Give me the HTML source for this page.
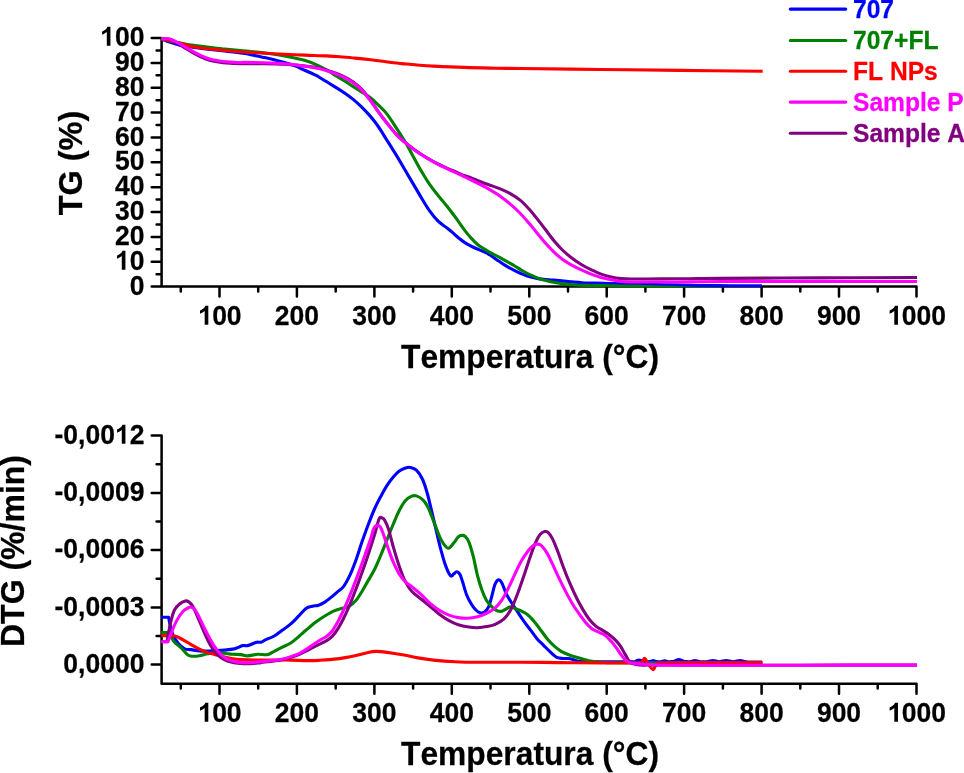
<!DOCTYPE html>
<html><head><meta charset="utf-8"><title>TG / DTG</title>
<style>
html,body{margin:0;padding:0;background:#fff;}
body{width:964px;height:773px;position:relative;overflow:hidden;font-family:"Liberation Sans",sans-serif;}
.one{display:inline-block;width:0.5562em;height:0.673em;vertical-align:baseline;fill:currentColor;overflow:visible}
.t{position:absolute;font-kerning:none;-webkit-text-stroke:0.25px currentColor;font-family:"Liberation Sans",sans-serif;font-weight:bold;white-space:nowrap;}
</style></head><body>
<svg width="964" height="773" viewBox="0 0 964 773" style="position:absolute;left:0;top:0">
<path d="M161.6 38.0V286.6M161.6 286.6H916.5M151.7 286.6H161.6M156.6 274.2H161.6M151.7 261.7H161.6M156.6 249.3H161.6M151.7 236.9H161.6M156.6 224.5H161.6M151.7 212.0H161.6M156.6 199.6H161.6M151.7 187.2H161.6M156.6 174.7H161.6M151.7 162.3H161.6M156.6 149.9H161.6M151.7 137.4H161.6M156.6 125.0H161.6M151.7 112.6H161.6M156.6 100.2H161.6M151.7 87.7H161.6M156.6 75.3H161.6M151.7 62.9H161.6M156.6 50.4H161.6M151.7 38.0H161.6M180.8 286.6V291.4M219.5 286.6V296.6M258.2 286.6V291.4M296.9 286.6V296.6M335.7 286.6V291.4M374.4 286.6V296.6M413.1 286.6V291.4M451.8 286.6V296.6M490.5 286.6V291.4M529.3 286.6V296.6M568.0 286.6V291.4M606.7 286.6V296.6M645.4 286.6V291.4M684.1 286.6V296.6M722.9 286.6V291.4M761.6 286.6V296.6M800.3 286.6V291.4M839.0 286.6V296.6M877.7 286.6V291.4M916.5 286.6V296.6M161.6 435.6V683.8M161.6 683.8H916.5M151.7 664.6H161.6M156.6 636.0H161.6M151.7 607.4H161.6M156.6 578.7H161.6M151.7 550.1H161.6M156.6 521.5H161.6M151.7 492.9H161.6M156.6 464.2H161.6M151.7 435.6H161.6M180.8 683.8V688.6M219.5 683.8V693.8M258.2 683.8V688.6M296.9 683.8V693.8M335.7 683.8V688.6M374.4 683.8V693.8M413.1 683.8V688.6M451.8 683.8V693.8M490.5 683.8V688.6M529.3 683.8V693.8M568.0 683.8V688.6M606.7 683.8V693.8M645.4 683.8V688.6M684.1 683.8V693.8M722.9 683.8V688.6M761.6 683.8V693.8M800.3 683.8V688.6M839.0 683.8V693.8M877.7 683.8V688.6M916.5 683.8V693.8" fill="none" stroke="#000" stroke-width="2.5" stroke-linecap="round"/>
<defs><clipPath id="ct"><rect x="160" y="30" width="780" height="257.6"/></clipPath></defs>
<g clip-path="url(#ct)">
<path d="M161.2 38.7C162.7 39.3 167.2 41.2 170.4 42.3C173.7 43.4 177.2 44.6 180.7 45.4C184.1 46.2 187.6 46.4 191.1 46.9C194.6 47.4 196.3 47.8 201.5 48.4C206.7 49.0 215.3 50.0 222.2 50.8C229.1 51.6 237.8 52.5 243.0 53.3C248.2 54.0 250.0 54.6 253.4 55.3C256.9 56.0 260.2 56.7 263.7 57.4C267.1 58.1 270.6 58.8 274.1 59.7C277.6 60.6 281.0 61.6 284.5 62.6C288.0 63.6 291.4 64.6 294.9 65.9C298.3 67.2 301.8 69.0 305.2 70.5C308.6 72.0 313.1 74.0 315.6 75.2C318.1 76.4 317.9 76.5 320.0 77.8C322.1 79.1 325.5 81.1 328.3 82.8C331.1 84.5 333.8 86.1 336.6 87.8C339.4 89.5 342.1 91.3 344.9 93.2C347.7 95.1 350.4 97.1 353.2 99.4C356.0 101.7 358.7 104.2 361.5 106.9C364.3 109.6 367.3 112.8 369.8 115.6C372.3 118.4 374.7 121.7 376.4 123.9C378.1 126.2 378.0 126.0 380.0 129.1C382.0 132.2 385.5 138.0 388.3 142.4C391.1 146.8 393.8 151.0 396.6 155.6C399.4 160.2 402.1 165.1 404.9 169.8C407.7 174.5 410.4 179.2 413.2 183.9C416.0 188.6 418.7 193.4 421.5 198.0C424.3 202.6 427.0 207.3 429.8 211.2C432.6 215.1 435.4 218.5 438.1 221.2C440.8 223.9 443.8 225.5 446.2 227.4C448.6 229.3 450.3 230.6 452.4 232.4C454.5 234.2 456.6 236.3 458.7 238.0C460.8 239.7 462.8 241.2 464.9 242.6C467.0 243.9 469.0 245.0 471.1 246.1C473.2 247.2 475.2 248.1 477.3 249.0C479.4 249.9 481.5 250.7 483.6 251.7C485.7 252.7 487.7 253.6 489.8 254.8C491.9 256.1 493.9 257.8 496.0 259.2C498.1 260.6 500.1 262.1 502.2 263.5C504.3 264.9 506.4 266.1 508.5 267.3C510.6 268.5 512.6 269.6 514.7 270.6C516.8 271.6 518.8 272.6 520.9 273.5C523.0 274.4 525.0 275.3 527.1 276.0C529.2 276.7 531.3 277.1 533.4 277.6C535.5 278.1 537.5 278.6 539.6 278.9C541.7 279.2 543.7 279.3 545.8 279.5C547.9 279.7 549.7 279.8 552.0 280.0C554.3 280.2 554.5 280.2 559.5 280.6C564.5 281.1 575.0 282.2 582.2 282.7C589.5 283.1 596.1 283.1 603.0 283.3C609.9 283.5 613.4 283.6 623.7 283.9C634.0 284.1 652.3 284.5 665.0 284.8C677.7 285.1 689.2 285.4 700.0 285.5C710.8 285.6 719.7 285.7 730.0 285.7C740.3 285.7 756.7 285.7 762.0 285.7" fill="none" stroke="#0000ff" stroke-width="3.1" stroke-linejoin="round" stroke-linecap="butt"/>
<path d="M161.2 38.7C162.7 39.1 167.2 40.3 170.4 41.0C173.7 41.7 177.2 42.3 180.7 43.0C184.1 43.7 187.6 44.5 191.1 45.0C194.6 45.5 196.3 45.7 201.5 46.3C206.7 46.9 215.3 48.0 222.2 48.8C229.1 49.5 236.1 50.1 243.0 50.8C249.9 51.5 256.8 51.9 263.7 52.8C270.6 53.6 277.6 54.6 284.5 55.9C291.4 57.2 299.7 58.9 305.2 60.5C310.7 62.1 313.8 63.5 317.7 65.3C321.6 67.0 325.1 69.2 328.3 71.0C331.5 72.8 333.8 74.5 336.6 76.2C339.4 77.9 342.1 79.5 344.9 81.2C347.7 82.9 350.4 84.8 353.2 86.6C356.0 88.4 358.7 90.2 361.5 92.0C364.3 93.8 367.0 95.2 369.8 97.3C372.6 99.4 375.3 102.1 378.1 104.8C380.9 107.5 383.9 110.3 386.4 113.4C388.9 116.5 390.2 118.6 393.3 123.3C396.4 128.0 401.6 136.0 404.9 141.5C408.2 147.0 410.4 151.5 413.2 156.5C416.0 161.5 418.7 166.7 421.5 171.4C424.3 176.1 427.0 180.7 429.8 184.7C432.6 188.7 435.3 192.1 438.1 195.5C440.9 198.9 443.8 202.2 446.4 205.4C449.0 208.7 451.6 212.3 453.7 215.0C455.8 217.7 456.8 219.2 458.7 221.8C460.6 224.4 462.8 227.9 464.9 230.6C467.0 233.3 469.0 235.7 471.1 238.0C473.2 240.3 475.2 242.5 477.3 244.3C479.4 246.1 481.5 247.3 483.6 248.6C485.7 249.9 487.7 251.2 489.8 252.3C491.9 253.5 493.9 254.4 496.0 255.5C498.1 256.6 500.1 257.7 502.2 258.8C504.3 259.9 506.4 261.1 508.5 262.3C510.6 263.5 512.6 264.8 514.7 266.0C516.8 267.2 518.8 268.6 520.9 269.8C523.0 271.0 525.0 272.2 527.1 273.3C529.2 274.4 531.3 275.3 533.4 276.2C535.5 277.1 537.5 278.0 539.6 278.7C541.7 279.4 543.7 280.1 545.8 280.6C547.9 281.2 549.7 281.6 552.0 282.0C554.3 282.4 555.7 282.7 559.5 283.2C563.3 283.7 568.2 284.6 575.0 285.0C581.8 285.4 589.2 285.4 600.0 285.6C610.8 285.8 628.3 286.1 640.0 286.4C651.7 286.7 660.0 286.9 670.0 287.3C680.0 287.7 684.7 288.2 700.0 288.6C715.3 289.1 751.7 289.8 762.0 290.0" fill="none" stroke="#008000" stroke-width="3.1" stroke-linejoin="round" stroke-linecap="butt"/>
<path d="M161.2 38.7C162.7 39.1 167.2 40.2 170.4 41.0C173.7 41.8 177.2 42.6 180.7 43.5C184.1 44.4 187.6 45.5 191.1 46.2C194.6 47.0 196.3 47.3 201.5 48.0C206.7 48.7 215.3 49.6 222.2 50.3C229.1 51.0 236.1 51.5 243.0 52.0C249.9 52.5 256.8 52.8 263.7 53.2C270.6 53.6 277.6 54.0 284.5 54.3C291.4 54.6 298.3 54.8 305.2 55.1C312.1 55.4 320.2 55.6 326.0 55.9C331.8 56.2 335.2 56.4 340.0 56.8C344.8 57.2 349.8 57.6 355.0 58.1C360.2 58.6 365.8 59.2 371.0 59.8C376.2 60.4 380.8 61.2 386.0 61.8C391.2 62.4 396.9 63.1 402.1 63.6C407.3 64.1 411.8 64.6 417.0 65.0C422.2 65.4 425.3 65.7 433.2 66.1C441.1 66.5 453.8 67.1 464.2 67.4C474.6 67.8 486.0 68.0 495.3 68.2C504.6 68.4 502.6 68.3 520.0 68.5C537.5 68.7 573.3 69.2 600.0 69.5C626.7 69.8 652.9 70.1 680.0 70.4C707.1 70.7 748.9 71.2 762.7 71.3" fill="none" stroke="#ff0000" stroke-width="3.1" stroke-linejoin="round" stroke-linecap="butt"/>
<path d="M161.2 38.7C162.4 38.8 166.7 38.8 168.3 39.0C170.0 39.2 169.8 39.3 171.1 39.9C172.4 40.5 174.6 41.5 176.3 42.5C178.0 43.5 179.8 44.6 181.5 45.7C183.2 46.8 185.0 47.9 186.7 49.0C188.4 50.1 190.2 51.2 191.9 52.2C193.6 53.2 195.3 54.1 197.0 55.0C198.7 55.9 200.5 56.6 202.2 57.4C203.9 58.1 205.7 58.9 207.4 59.5C209.1 60.1 210.0 60.5 212.6 61.0C215.2 61.5 219.5 62.3 223.0 62.7C226.5 63.1 230.6 63.2 233.4 63.4C236.2 63.5 238.4 63.6 240.0 63.6C241.6 63.6 239.1 63.6 243.0 63.6C246.9 63.6 256.8 63.6 263.7 63.7C270.6 63.8 277.6 63.9 284.5 64.3C291.4 64.7 299.3 65.3 305.2 66.0C311.1 66.7 316.1 67.5 320.0 68.3C323.9 69.1 325.5 69.8 328.3 70.7C331.1 71.6 333.8 72.4 336.6 73.5C339.4 74.6 342.1 75.8 344.9 77.2C347.7 78.6 350.4 80.1 353.2 82.1C356.0 84.1 358.7 86.3 361.5 89.2C364.3 92.1 367.0 95.6 369.8 99.3C372.6 103.0 375.3 107.4 378.1 111.3C380.9 115.2 383.3 118.5 386.4 122.4C389.5 126.3 393.5 131.3 396.6 134.6C399.7 137.9 402.1 139.8 404.9 142.1C407.7 144.4 410.4 146.6 413.2 148.7C416.0 150.8 418.7 152.7 421.5 154.5C424.3 156.3 427.0 157.9 429.8 159.5C432.6 161.1 435.3 162.6 438.1 164.0C440.9 165.4 443.6 166.7 446.4 167.9C449.2 169.2 451.9 170.3 454.7 171.5C457.5 172.7 460.2 174.0 463.0 175.1C465.8 176.2 468.5 176.9 471.3 178.0C474.1 179.1 476.9 180.3 480.0 181.5C483.1 182.7 486.7 184.0 490.1 185.2C493.5 186.4 496.8 187.5 500.2 188.9C503.6 190.3 506.9 191.7 510.3 193.6C513.7 195.5 517.3 197.9 520.4 200.4C523.5 202.9 526.0 205.7 528.8 208.8C531.6 211.9 534.4 215.4 537.2 218.9C540.0 222.4 542.8 226.2 545.6 229.8C548.4 233.5 551.2 237.4 554.0 240.8C556.8 244.2 559.6 247.3 562.4 250.0C565.2 252.7 567.7 254.8 570.8 257.2C573.9 259.6 577.5 262.2 580.9 264.3C584.3 266.4 587.6 268.1 591.0 269.7C594.4 271.3 597.7 272.9 601.1 274.1C604.5 275.3 607.8 276.2 611.2 277.0C614.6 277.8 617.9 278.3 621.3 278.6C624.7 278.9 624.9 278.9 631.4 279.0C637.9 279.1 650.2 278.9 660.0 278.9C669.8 278.8 680.1 278.8 690.0 278.7C699.9 278.6 697.5 278.5 719.2 278.4C740.9 278.3 787.0 278.0 820.0 277.9C853.0 277.8 900.8 277.6 917.0 277.5" fill="none" stroke="#800080" stroke-width="3.1" stroke-linejoin="round" stroke-linecap="butt"/>
<path d="M161.2 38.7C162.4 38.7 166.7 38.7 168.3 38.8C170.0 38.9 169.8 39.0 171.1 39.5C172.4 40.0 174.6 40.9 176.3 41.8C178.0 42.7 179.8 43.7 181.5 44.7C183.2 45.7 185.0 46.8 186.7 47.8C188.4 48.8 190.2 49.9 191.9 50.9C193.6 51.9 195.3 52.8 197.0 53.7C198.7 54.6 200.5 55.4 202.2 56.1C203.9 56.9 205.7 57.6 207.4 58.2C209.1 58.8 210.0 59.2 212.6 59.8C215.2 60.3 219.5 61.1 223.0 61.5C226.5 61.9 230.6 62.1 233.4 62.3C236.2 62.5 238.4 62.6 240.0 62.6C241.6 62.6 239.1 62.4 243.0 62.4C246.9 62.4 256.8 62.6 263.7 62.8C270.6 63.0 277.6 63.2 284.5 63.8C291.4 64.4 299.3 65.5 305.2 66.3C311.1 67.1 316.1 67.9 320.0 68.7C323.9 69.5 325.5 70.3 328.3 71.2C331.1 72.1 333.8 73.0 336.6 74.1C339.4 75.2 342.1 76.3 344.9 77.8C347.7 79.2 350.4 80.8 353.2 82.8C356.0 84.8 358.7 87.1 361.5 89.9C364.3 92.7 367.0 96.2 369.8 99.8C372.6 103.4 375.3 107.8 378.1 111.5C380.9 115.2 383.3 118.3 386.4 122.2C389.5 126.1 393.5 131.5 396.6 134.9C399.7 138.3 402.1 140.1 404.9 142.4C407.7 144.8 410.4 146.9 413.2 149.0C416.0 151.1 418.7 153.0 421.5 154.8C424.3 156.6 427.0 158.2 429.8 159.8C432.6 161.4 435.3 163.0 438.1 164.4C440.9 165.8 443.6 167.1 446.4 168.4C449.2 169.7 451.9 170.9 454.7 172.2C457.5 173.5 460.2 174.8 463.0 176.1C465.8 177.4 468.5 178.6 471.3 180.0C474.1 181.4 476.9 182.8 480.0 184.4C483.1 186.1 486.7 187.9 490.1 189.9C493.5 191.9 496.8 193.8 500.2 196.2C503.6 198.6 506.9 201.2 510.3 204.1C513.7 207.0 517.3 210.3 520.4 213.5C523.5 216.7 526.0 219.8 528.8 223.1C531.6 226.4 534.4 229.8 537.2 233.2C540.0 236.6 542.8 240.1 545.6 243.3C548.4 246.5 551.2 249.5 554.0 252.2C556.8 254.9 559.6 257.2 562.4 259.3C565.2 261.4 567.7 262.9 570.8 264.6C573.9 266.3 577.5 268.1 580.9 269.7C584.3 271.3 587.6 272.8 591.0 274.1C594.4 275.4 597.7 276.4 601.1 277.4C604.5 278.3 607.8 279.1 611.2 279.8C614.6 280.5 617.9 281.1 621.3 281.5C624.7 281.9 624.9 281.9 631.4 282.0C637.9 282.1 650.2 282.0 660.0 282.0C669.8 282.0 680.1 282.0 690.0 281.9C699.9 281.8 697.5 281.6 719.2 281.5C740.9 281.4 787.0 281.5 820.0 281.5C853.0 281.5 900.8 281.5 917.0 281.5" fill="none" stroke="#ff00ff" stroke-width="3.1" stroke-linejoin="round" stroke-linecap="butt"/>
</g>
<path d="M161.2 617.3C162.4 617.3 167.4 617.3 168.6 617.3C168.9 618.8 169.7 623.5 170.4 626.4C171.1 629.3 171.7 631.9 172.9 634.7C174.2 637.5 176.0 640.6 177.9 643.0C179.8 645.4 182.4 647.7 184.6 648.8C186.8 649.9 188.7 649.2 191.2 649.6C193.7 650.0 196.7 650.8 199.5 651.0C202.3 651.2 205.0 651.1 207.8 651.0C210.6 650.9 213.3 650.6 216.1 650.5C218.9 650.4 221.6 650.3 224.4 650.1C227.2 649.9 230.5 649.5 232.7 649.1C234.9 648.7 236.0 648.2 237.7 647.6C239.3 647.0 240.9 645.9 242.6 645.6C244.2 645.3 245.9 645.9 247.6 645.6C249.3 645.3 251.1 644.4 252.6 643.8C254.1 643.2 255.4 642.5 256.8 642.2C258.2 641.9 259.4 642.6 260.9 642.2C262.4 641.8 263.7 640.7 265.9 639.7C268.1 638.7 271.4 637.6 274.2 636.0C277.0 634.4 279.7 632.0 282.5 630.0C285.3 628.0 288.0 626.3 290.8 623.9C293.6 621.5 296.5 618.2 299.1 615.6C301.7 613.0 304.0 609.9 306.2 608.3C308.4 606.7 310.3 606.7 312.4 606.2C314.5 605.7 316.5 605.9 318.6 605.2C320.7 604.5 322.7 603.4 324.8 602.1C326.9 600.8 328.9 599.1 331.0 597.4C333.1 595.7 335.1 593.9 337.2 592.1C339.3 590.3 341.4 589.3 343.5 586.6C345.6 583.9 347.6 580.1 349.7 575.7C351.8 571.3 353.8 565.9 355.9 560.2C358.0 554.5 360.0 547.6 362.1 541.6C364.2 535.6 366.2 529.9 368.3 524.5C370.4 519.1 372.4 513.6 374.5 509.0C376.6 504.4 378.6 500.5 380.7 496.6C382.8 492.7 384.8 488.9 386.9 485.7C389.0 482.5 391.0 479.7 393.1 477.3C395.2 474.9 397.2 472.7 399.3 471.1C401.4 469.6 403.7 468.6 405.5 468.0C407.3 467.4 408.4 467.0 410.2 467.4C412.0 467.8 414.3 468.2 416.4 470.2C418.5 472.2 420.8 475.6 422.6 479.5C424.4 483.4 425.8 488.1 427.3 493.5C428.9 498.9 430.3 505.7 431.9 512.1C433.4 518.6 435.1 525.7 436.6 532.2C438.2 538.7 439.6 545.2 441.2 550.9C442.8 556.6 444.3 562.3 445.9 566.4C447.4 570.5 449.2 574.4 450.5 575.7C451.8 577.0 452.6 574.8 453.6 574.1C454.6 573.4 455.7 571.7 456.7 571.7C457.7 571.7 458.8 572.5 459.8 574.1C460.8 575.7 461.4 578.1 462.5 581.5C463.6 584.9 465.2 591.0 466.6 594.7C468.0 598.4 469.5 601.0 471.0 603.5C472.5 606.0 473.9 608.0 475.4 609.5C476.9 611.0 478.3 612.2 479.8 612.7C481.3 613.2 482.7 613.3 484.2 612.3C485.7 611.3 487.3 609.5 488.6 606.8C489.9 604.0 490.9 599.5 491.9 595.8C492.9 592.1 493.9 587.4 494.8 584.8C495.7 582.2 496.6 581.2 497.4 580.4C498.2 579.6 498.8 579.5 499.6 580.0C500.4 580.5 501.1 581.4 502.2 583.7C503.3 586.0 504.8 590.7 506.2 593.6C507.6 596.5 508.8 598.4 510.6 601.3C512.4 604.2 515.0 607.9 517.2 611.2C519.4 614.5 521.6 618.0 523.8 621.1C526.0 624.2 528.2 627.0 530.4 629.9C532.6 632.8 534.8 636.1 537.0 638.7C539.2 641.3 541.4 643.1 543.6 645.3C545.8 647.5 548.0 649.9 550.2 651.9C552.4 653.9 554.6 656.3 556.8 657.4C559.0 658.5 561.2 658.3 563.4 658.5C565.6 658.7 567.4 658.2 570.0 658.7C572.6 659.2 575.1 660.9 578.8 661.4C582.5 661.9 586.1 661.7 592.0 661.8C597.9 661.9 607.0 661.8 614.0 661.8C621.0 661.8 630.0 662.0 633.8 661.8C637.5 661.6 635.6 660.9 636.5 660.6C637.4 660.3 638.2 660.0 639.1 660.0C640.0 660.0 641.0 660.5 642.0 660.8C643.0 661.1 643.7 661.7 645.0 661.8C646.3 661.9 648.6 661.8 650.0 661.6C651.4 661.4 652.1 660.6 653.2 660.6C654.3 660.6 655.2 661.4 656.5 661.6C657.8 661.8 659.6 661.9 661.0 661.7C662.4 661.6 663.5 660.7 664.8 660.7C666.0 660.7 667.0 661.6 668.5 661.7C670.0 661.8 672.3 661.6 674.0 661.3C675.7 660.9 677.2 659.6 678.9 659.6C680.6 659.6 682.1 660.9 684.0 661.3C685.9 661.6 688.2 661.8 690.0 661.7C691.8 661.6 693.0 660.5 694.7 660.5C696.4 660.5 698.0 661.5 700.0 661.7C702.0 661.9 704.8 661.9 707.0 661.7C709.2 661.5 711.0 660.5 713.0 660.5C715.0 660.5 716.8 661.7 719.0 661.7C721.2 661.7 723.9 660.5 726.2 660.5C728.5 660.5 730.6 661.7 733.0 661.7C735.4 661.7 738.1 660.5 740.3 660.5C742.5 660.5 742.4 661.5 746.0 661.7C749.6 662.0 759.3 662.0 762.0 662.0" fill="none" stroke="#0000ff" stroke-width="3.1" stroke-linejoin="round" stroke-linecap="butt"/>
<path d="M161.2 632.5C162.3 632.5 166.9 632.5 168.0 632.5C168.6 633.3 170.2 635.6 171.3 637.2C172.4 638.8 172.9 640.4 174.6 642.2C176.2 644.0 179.0 645.9 181.2 648.0C183.4 650.1 185.9 653.5 187.9 654.9C189.9 656.3 191.0 656.1 192.9 656.3C194.8 656.4 197.0 656.2 199.5 655.8C202.0 655.4 205.0 654.3 207.8 653.8C210.6 653.3 213.3 652.7 216.1 652.6C218.9 652.5 221.6 653.0 224.4 653.3C227.2 653.6 229.9 654.1 232.7 654.3C235.5 654.5 238.5 654.3 241.0 654.6C243.5 654.9 244.8 656.0 247.6 655.9C250.4 655.8 254.3 654.5 257.6 654.3C260.9 654.1 264.7 655.1 267.5 654.6C270.3 654.1 271.7 652.5 274.2 651.3C276.7 650.0 279.7 648.5 282.5 647.1C285.3 645.7 288.0 644.8 290.8 643.0C293.6 641.2 296.5 638.5 299.1 636.3C301.7 634.1 303.5 632.3 306.2 630.0C308.9 627.7 312.4 624.6 315.5 622.3C318.6 620.0 321.7 617.9 324.8 616.0C327.9 614.1 331.2 612.1 334.1 610.8C337.0 609.5 339.3 609.1 341.9 608.3C344.5 607.5 347.4 607.1 349.7 605.8C352.0 604.5 353.8 602.9 355.9 600.5C358.0 598.1 360.0 594.6 362.1 591.2C364.2 587.9 366.2 584.0 368.3 580.4C370.4 576.8 372.4 573.6 374.5 569.5C376.6 565.4 378.6 560.4 380.7 555.5C382.8 550.6 384.8 545.2 386.9 540.0C389.0 534.8 391.0 529.4 393.1 524.5C395.2 519.6 397.2 514.5 399.3 510.5C401.4 506.5 403.4 503.0 405.5 500.6C407.6 498.2 409.9 497.0 411.7 496.2C413.5 495.4 414.6 495.3 416.4 495.9C418.2 496.5 420.8 498.0 422.6 499.7C424.4 501.4 425.8 503.1 427.3 505.9C428.9 508.7 430.3 512.8 431.9 516.7C433.4 520.6 435.1 525.2 436.6 529.1C438.2 533.0 439.6 537.0 441.2 540.0C442.8 543.0 444.6 545.4 445.9 546.8C447.2 548.1 447.7 548.7 449.0 548.1C450.3 547.5 452.1 545.0 453.6 543.1C455.2 541.2 456.9 538.2 458.3 536.9C459.7 535.6 460.9 535.5 462.0 535.4C463.1 535.3 463.9 535.2 465.0 536.3C466.1 537.4 467.4 538.6 468.8 541.9C470.2 545.2 471.7 550.5 473.2 556.2C474.7 561.9 476.1 570.3 477.6 576.0C479.1 581.7 480.5 586.3 482.0 590.3C483.5 594.3 484.8 597.5 486.4 600.2C488.0 603.0 490.1 605.0 491.9 606.8C493.7 608.6 495.8 610.1 497.4 610.8C499.0 611.5 500.3 611.5 501.8 611.2C503.3 610.9 504.7 609.7 506.2 609.0C507.7 608.3 509.1 606.9 510.6 606.8C512.1 606.7 513.2 607.9 515.0 608.6C516.8 609.3 519.4 610.1 521.6 611.2C523.8 612.3 526.0 613.4 528.2 615.2C530.4 617.0 532.6 619.6 534.8 622.2C537.0 624.8 539.2 628.1 541.4 631.0C543.6 633.9 545.8 637.2 548.0 639.8C550.2 642.4 552.4 644.5 554.6 646.4C556.8 648.3 558.6 649.8 561.2 651.3C563.8 652.8 566.7 654.0 570.0 655.2C573.3 656.4 577.3 657.5 581.0 658.5C584.7 659.5 588.3 660.8 592.0 661.4C595.7 662.0 599.3 662.1 603.0 662.3C606.7 662.5 601.2 662.6 614.0 662.7C626.8 662.8 655.3 663.0 680.0 663.0C704.7 663.0 748.3 663.0 762.0 663.0" fill="none" stroke="#008000" stroke-width="3.1" stroke-linejoin="round" stroke-linecap="butt"/>
<path d="M161.2 635.5C163.4 635.6 171.5 635.6 174.6 636.0C177.7 636.4 176.8 636.6 179.6 638.0C182.4 639.4 187.9 642.8 191.2 644.6C194.5 646.5 196.7 647.8 199.5 649.1C202.3 650.4 205.0 651.6 207.8 652.6C210.6 653.6 213.3 654.1 216.1 654.9C218.9 655.6 221.6 656.5 224.4 657.1C227.2 657.8 229.9 658.4 232.7 658.8C235.5 659.2 236.8 659.4 241.0 659.6C245.2 659.8 252.1 660.0 257.6 660.1C263.1 660.2 268.7 660.1 274.2 660.1C279.7 660.1 285.3 660.0 290.8 660.1C296.3 660.2 302.8 660.6 307.4 660.6C312.0 660.6 313.6 660.7 318.6 660.4C323.6 660.1 331.0 659.7 337.2 658.9C343.4 658.1 350.7 656.6 355.9 655.5C361.1 654.4 364.9 653.1 368.3 652.4C371.7 651.7 372.9 651.4 376.0 651.4C379.1 651.4 382.5 651.8 386.9 652.4C391.3 653.0 397.2 653.9 402.4 654.8C407.6 655.7 412.7 657.0 417.9 657.9C423.1 658.8 427.3 659.5 433.5 660.1C439.7 660.7 447.4 661.3 455.2 661.7C462.9 662.1 469.2 662.2 480.0 662.3C490.8 662.4 506.7 662.2 520.0 662.2C533.3 662.2 546.7 662.5 560.0 662.6C573.3 662.7 588.3 662.8 600.0 662.9C611.7 663.0 623.2 663.0 630.0 663.0C636.8 663.0 638.6 663.4 641.0 662.6C643.4 661.8 643.4 658.1 644.6 658.2C645.8 658.4 646.6 661.6 648.0 663.5C649.4 665.4 651.7 669.6 653.2 669.6C654.7 669.6 655.0 664.6 657.0 663.5C659.0 662.4 657.8 662.9 665.0 662.8C672.2 662.6 683.7 662.6 700.0 662.6C716.3 662.6 752.2 662.5 762.7 662.5" fill="none" stroke="#ff0000" stroke-width="3.1" stroke-linejoin="round" stroke-linecap="butt"/>
<path d="M161.2 641.7C162.2 641.7 166.0 641.7 167.0 641.7C167.3 640.0 168.1 635.0 168.8 631.4C169.5 627.8 170.3 623.4 171.3 619.8C172.3 616.2 173.2 612.4 174.6 609.8C176.0 607.2 177.8 605.5 179.6 604.0C181.4 602.5 183.9 601.4 185.4 601.0C186.9 600.6 187.4 600.9 188.7 601.8C189.9 602.7 191.4 603.9 192.9 606.5C194.4 609.1 195.9 612.9 197.8 617.3C199.7 621.7 202.3 628.2 204.5 633.0C206.7 637.8 208.9 642.6 211.1 646.3C213.3 649.9 215.6 652.7 217.8 654.9C220.0 657.1 222.2 658.4 224.4 659.6C226.6 660.8 228.8 661.5 231.0 662.1C233.2 662.7 234.4 662.9 237.7 663.2C241.0 663.5 247.0 663.8 250.9 663.7C254.8 663.6 257.0 663.1 260.9 662.6C264.8 662.1 270.3 661.5 274.2 660.9C278.1 660.3 280.8 660.1 284.1 659.3C287.4 658.5 291.5 657.2 294.1 656.3C296.8 655.4 297.5 655.1 300.0 654.0C302.5 652.9 306.0 651.0 309.0 649.5C312.0 648.0 315.1 646.4 318.1 644.9C321.1 643.4 324.7 641.9 327.1 640.4C329.5 638.9 330.8 637.9 332.6 635.9C334.4 633.9 336.2 631.5 338.0 628.6C339.8 625.7 341.6 622.3 343.4 618.7C345.2 615.1 347.1 611.1 348.9 606.9C350.7 602.7 352.5 598.0 354.3 593.3C356.1 588.6 357.9 583.9 359.7 578.9C361.5 573.9 363.4 568.8 365.2 563.5C367.0 558.2 368.9 552.4 370.6 547.2C372.3 542.0 373.8 537.2 375.2 532.5C376.6 527.8 378.0 521.4 379.1 518.9C380.2 516.4 380.7 517.6 381.6 517.7C382.5 517.9 383.2 517.9 384.4 519.8C385.5 521.7 387.1 524.7 388.5 529.1C389.9 533.5 391.3 540.0 393.1 546.2C394.9 552.4 397.2 560.5 399.3 566.4C401.4 572.3 403.4 577.8 405.5 581.9C407.6 586.0 409.1 588.4 411.7 591.2C414.3 594.1 417.9 596.4 421.0 599.0C424.1 601.6 427.3 604.1 430.4 606.7C433.5 609.3 436.6 612.2 439.7 614.5C442.8 616.8 445.9 619.0 449.0 620.7C452.1 622.4 455.0 623.7 458.3 624.7C461.6 625.8 465.6 626.5 468.8 627.0C472.0 627.5 474.7 627.8 477.6 627.7C480.5 627.6 483.5 627.2 486.4 626.6C489.3 626.0 492.3 625.7 495.2 624.4C498.1 623.1 501.4 621.3 504.0 618.9C506.6 616.5 508.4 614.1 510.6 610.1C512.8 606.1 515.0 600.4 517.2 594.7C519.4 589.0 521.6 582.4 523.8 576.0C526.0 569.6 528.4 561.9 530.4 556.2C532.4 550.5 534.2 545.6 535.9 541.9C537.5 538.2 538.8 535.9 540.3 534.2C541.8 532.5 543.4 531.9 544.7 531.6C546.0 531.3 546.7 531.2 548.0 532.4C549.3 533.6 550.8 535.4 552.4 538.6C554.0 541.8 556.1 547.0 557.9 551.8C559.7 556.6 561.4 561.9 563.4 567.2C565.4 572.5 567.8 578.6 570.0 583.7C572.2 588.8 574.4 593.6 576.6 598.0C578.8 602.4 581.0 606.4 583.2 610.1C585.4 613.8 587.6 617.2 589.8 620.0C592.0 622.8 594.2 624.8 596.4 626.6C598.6 628.4 600.8 629.2 603.0 630.6C605.2 632.0 607.4 633.3 609.6 635.0C611.8 636.7 614.4 639.0 616.2 640.9C618.0 642.8 619.1 644.2 620.6 646.4C622.1 648.6 623.5 651.6 625.0 654.1C626.5 656.6 627.9 659.8 629.4 661.4C630.9 663.0 631.6 663.4 633.8 664.0C636.0 664.6 638.2 665.0 642.6 665.1C647.0 665.2 650.4 664.9 660.0 664.9C669.6 664.9 676.7 665.2 700.0 665.2C723.3 665.2 763.8 665.2 800.0 665.2C836.2 665.2 897.5 665.1 917.0 665.1" fill="none" stroke="#800080" stroke-width="3.1" stroke-linejoin="round" stroke-linecap="butt"/>
<path d="M161.2 641.7C162.3 641.7 166.9 641.7 168.0 641.7C168.6 640.2 169.9 636.4 171.3 633.0C172.7 629.6 174.4 625.0 176.3 621.4C178.2 617.8 180.8 613.8 182.9 611.5C185.0 609.2 187.2 608.3 188.7 607.6C190.2 606.9 190.8 606.6 192.0 607.3C193.2 607.9 194.7 609.1 196.2 611.5C197.7 613.9 199.3 617.5 201.2 621.4C203.1 625.3 205.6 630.6 207.8 634.7C210.0 638.9 212.2 643.0 214.4 646.3C216.6 649.6 218.9 652.4 221.1 654.6C223.3 656.8 225.5 658.1 227.7 659.3C229.9 660.5 232.1 661.0 234.3 661.6C236.5 662.2 238.2 662.4 241.0 662.6C243.8 662.8 247.6 662.8 250.9 662.6C254.2 662.4 257.0 662.0 260.9 661.6C264.8 661.2 270.3 660.9 274.2 660.4C278.1 659.9 280.8 659.6 284.1 658.8C287.4 658.0 291.5 656.3 294.1 655.4C296.8 654.5 297.5 654.4 300.0 653.1C302.5 651.8 306.0 649.6 309.0 647.6C312.0 645.6 315.1 643.2 318.1 641.3C321.1 639.3 324.7 637.7 327.1 635.9C329.5 634.1 330.8 632.9 332.6 630.5C334.4 628.1 336.2 624.7 338.0 621.4C339.8 618.1 341.6 614.4 343.4 610.5C345.2 606.6 347.1 602.3 348.9 597.9C350.7 593.5 352.5 589.0 354.3 584.3C356.1 579.6 357.9 574.8 359.7 569.8C361.5 564.8 363.4 559.5 365.2 554.4C367.0 549.3 369.2 543.4 370.6 539.0C372.1 534.6 372.7 530.5 373.9 528.2C375.1 525.9 376.5 525.5 377.6 525.4C378.7 525.3 379.7 525.9 380.7 527.6C381.7 529.3 382.5 531.8 383.8 535.4C385.1 539.0 386.9 544.9 388.5 549.3C390.1 553.7 391.3 557.6 393.1 561.7C394.9 565.8 397.2 570.7 399.3 574.1C401.4 577.5 403.4 579.8 405.5 581.9C407.6 584.0 409.1 584.5 411.7 586.6C414.3 588.7 417.9 591.5 421.0 594.3C424.1 597.1 427.3 600.9 430.4 603.6C433.5 606.3 436.6 608.6 439.7 610.5C442.8 612.4 445.9 613.9 449.0 615.1C452.1 616.3 455.2 617.1 458.3 617.6C461.4 618.1 464.4 618.4 467.6 618.2C470.8 618.1 474.5 617.5 477.6 616.7C480.7 615.9 483.5 614.9 486.4 613.4C489.3 611.9 492.6 610.1 495.2 607.9C497.8 605.7 499.6 603.5 501.8 600.2C504.0 596.9 506.2 592.5 508.4 588.1C510.6 583.7 512.8 578.4 515.0 573.8C517.2 569.2 519.4 564.5 521.6 560.6C523.8 556.8 526.2 553.3 528.2 550.7C530.2 548.1 532.2 546.3 533.7 545.2C535.2 544.1 536.1 544.0 537.4 544.1C538.7 544.2 539.8 544.1 541.4 545.6C543.0 547.1 545.1 549.9 546.9 552.9C548.7 555.9 550.4 559.7 552.4 563.9C554.4 568.1 556.8 573.6 559.0 578.2C561.2 582.8 563.4 587.2 565.6 591.4C567.8 595.6 570.0 599.8 572.2 603.5C574.4 607.2 576.6 610.3 578.8 613.4C581.0 616.5 583.2 619.6 585.4 622.2C587.6 624.8 589.8 627.1 592.0 628.8C594.2 630.4 596.4 631.0 598.6 632.1C600.8 633.2 603.0 633.8 605.2 635.4C607.4 637.0 610.0 640.0 611.8 642.0C613.6 644.0 614.7 645.5 616.2 647.5C617.7 649.5 619.1 652.1 620.6 654.1C622.1 656.1 623.5 658.2 625.0 659.6C626.5 661.0 627.6 661.8 629.4 662.5C631.2 663.2 630.9 663.2 636.0 663.6C641.1 664.0 649.3 664.8 660.0 665.1C670.7 665.4 676.7 665.2 700.0 665.2C723.3 665.2 763.8 665.2 800.0 665.2C836.2 665.2 897.5 665.1 917.0 665.1" fill="none" stroke="#ff00ff" stroke-width="3.1" stroke-linejoin="round" stroke-linecap="butt"/>
<path d="M790.3 9.1H845.7" stroke="#0000ff" stroke-width="3.1" stroke-linecap="round" fill="none"/>
<path d="M790.3 40.5H845.7" stroke="#008000" stroke-width="3.1" stroke-linecap="round" fill="none"/>
<path d="M790.3 71.2H845.7" stroke="#ff0000" stroke-width="3.1" stroke-linecap="round" fill="none"/>
<path d="M790.3 102.1H845.7" stroke="#ff00ff" stroke-width="3.1" stroke-linecap="round" fill="none"/>
<path d="M790.3 133.2H845.7" stroke="#800080" stroke-width="3.1" stroke-linecap="round" fill="none"/>
</svg>
<div id="txt" style="position:absolute;left:0;top:0;width:964px;height:773px;overflow:hidden;will-change:transform;">
<div class="t" style="right:819.6px;transform:scaleY(1.070);transform-origin:50% 24.42px;top:270.78px;font-size:26.50px;line-height:30.47px;color:#000;">0</div>
<div class="t" style="right:819.6px;transform:scaleY(1.070);transform-origin:50% 24.42px;top:245.92px;font-size:26.50px;line-height:30.47px;color:#000;"><svg class="one" viewBox="0 -1472 1139 1472" preserveAspectRatio="none"><path d="M806 0H525V-1059Q371 -915 162 -846V-1101Q272 -1137 401 -1237.5T578 -1472H806Z"/></svg>0</div>
<div class="t" style="right:819.6px;transform:scaleY(1.070);transform-origin:50% 24.42px;top:221.06px;font-size:26.50px;line-height:30.47px;color:#000;">20</div>
<div class="t" style="right:819.6px;transform:scaleY(1.070);transform-origin:50% 24.42px;top:196.20px;font-size:26.50px;line-height:30.47px;color:#000;">30</div>
<div class="t" style="right:819.6px;transform:scaleY(1.070);transform-origin:50% 24.42px;top:171.34px;font-size:26.50px;line-height:30.47px;color:#000;">40</div>
<div class="t" style="right:819.6px;transform:scaleY(1.070);transform-origin:50% 24.42px;top:146.48px;font-size:26.50px;line-height:30.47px;color:#000;">50</div>
<div class="t" style="right:819.6px;transform:scaleY(1.070);transform-origin:50% 24.42px;top:121.62px;font-size:26.50px;line-height:30.47px;color:#000;">60</div>
<div class="t" style="right:819.6px;transform:scaleY(1.070);transform-origin:50% 24.42px;top:96.76px;font-size:26.50px;line-height:30.47px;color:#000;">70</div>
<div class="t" style="right:819.6px;transform:scaleY(1.070);transform-origin:50% 24.42px;top:71.90px;font-size:26.50px;line-height:30.47px;color:#000;">80</div>
<div class="t" style="right:819.6px;transform:scaleY(1.070);transform-origin:50% 24.42px;top:47.04px;font-size:26.50px;line-height:30.47px;color:#000;">90</div>
<div class="t" style="right:819.6px;transform:scaleY(1.070);transform-origin:50% 24.42px;top:22.18px;font-size:26.50px;line-height:30.47px;color:#000;"><svg class="one" viewBox="0 -1472 1139 1472" preserveAspectRatio="none"><path d="M806 0H525V-1059Q371 -915 162 -846V-1101Q272 -1137 401 -1237.5T578 -1472H806Z"/></svg>00</div>
<div class="t" style="left:219.5px;transform:translateX(-50%) scaleY(1.070);transform-origin:50% 24.42px;top:301.28px;font-size:26.50px;line-height:30.47px;color:#000;"><svg class="one" viewBox="0 -1472 1139 1472" preserveAspectRatio="none"><path d="M806 0H525V-1059Q371 -915 162 -846V-1101Q272 -1137 401 -1237.5T578 -1472H806Z"/></svg>00</div>
<div class="t" style="left:219.5px;transform:translateX(-50%) scaleY(1.070);transform-origin:50% 24.42px;top:698.48px;font-size:26.50px;line-height:30.47px;color:#000;"><svg class="one" viewBox="0 -1472 1139 1472" preserveAspectRatio="none"><path d="M806 0H525V-1059Q371 -915 162 -846V-1101Q272 -1137 401 -1237.5T578 -1472H806Z"/></svg>00</div>
<div class="t" style="left:296.9px;transform:translateX(-50%) scaleY(1.070);transform-origin:50% 24.42px;top:301.28px;font-size:26.50px;line-height:30.47px;color:#000;">200</div>
<div class="t" style="left:296.9px;transform:translateX(-50%) scaleY(1.070);transform-origin:50% 24.42px;top:698.48px;font-size:26.50px;line-height:30.47px;color:#000;">200</div>
<div class="t" style="left:374.4px;transform:translateX(-50%) scaleY(1.070);transform-origin:50% 24.42px;top:301.28px;font-size:26.50px;line-height:30.47px;color:#000;">300</div>
<div class="t" style="left:374.4px;transform:translateX(-50%) scaleY(1.070);transform-origin:50% 24.42px;top:698.48px;font-size:26.50px;line-height:30.47px;color:#000;">300</div>
<div class="t" style="left:451.8px;transform:translateX(-50%) scaleY(1.070);transform-origin:50% 24.42px;top:301.28px;font-size:26.50px;line-height:30.47px;color:#000;">400</div>
<div class="t" style="left:451.8px;transform:translateX(-50%) scaleY(1.070);transform-origin:50% 24.42px;top:698.48px;font-size:26.50px;line-height:30.47px;color:#000;">400</div>
<div class="t" style="left:529.3px;transform:translateX(-50%) scaleY(1.070);transform-origin:50% 24.42px;top:301.28px;font-size:26.50px;line-height:30.47px;color:#000;">500</div>
<div class="t" style="left:529.3px;transform:translateX(-50%) scaleY(1.070);transform-origin:50% 24.42px;top:698.48px;font-size:26.50px;line-height:30.47px;color:#000;">500</div>
<div class="t" style="left:606.7px;transform:translateX(-50%) scaleY(1.070);transform-origin:50% 24.42px;top:301.28px;font-size:26.50px;line-height:30.47px;color:#000;">600</div>
<div class="t" style="left:606.7px;transform:translateX(-50%) scaleY(1.070);transform-origin:50% 24.42px;top:698.48px;font-size:26.50px;line-height:30.47px;color:#000;">600</div>
<div class="t" style="left:684.1px;transform:translateX(-50%) scaleY(1.070);transform-origin:50% 24.42px;top:301.28px;font-size:26.50px;line-height:30.47px;color:#000;">700</div>
<div class="t" style="left:684.1px;transform:translateX(-50%) scaleY(1.070);transform-origin:50% 24.42px;top:698.48px;font-size:26.50px;line-height:30.47px;color:#000;">700</div>
<div class="t" style="left:761.6px;transform:translateX(-50%) scaleY(1.070);transform-origin:50% 24.42px;top:301.28px;font-size:26.50px;line-height:30.47px;color:#000;">800</div>
<div class="t" style="left:761.6px;transform:translateX(-50%) scaleY(1.070);transform-origin:50% 24.42px;top:698.48px;font-size:26.50px;line-height:30.47px;color:#000;">800</div>
<div class="t" style="left:839.0px;transform:translateX(-50%) scaleY(1.070);transform-origin:50% 24.42px;top:301.28px;font-size:26.50px;line-height:30.47px;color:#000;">900</div>
<div class="t" style="left:839.0px;transform:translateX(-50%) scaleY(1.070);transform-origin:50% 24.42px;top:698.48px;font-size:26.50px;line-height:30.47px;color:#000;">900</div>
<div class="t" style="left:916.5px;transform:translateX(-50%) scaleY(1.070);transform-origin:50% 24.42px;top:301.28px;font-size:26.50px;line-height:30.47px;color:#000;"><svg class="one" viewBox="0 -1472 1139 1472" preserveAspectRatio="none"><path d="M806 0H525V-1059Q371 -915 162 -846V-1101Q272 -1137 401 -1237.5T578 -1472H806Z"/></svg>000</div>
<div class="t" style="left:916.5px;transform:translateX(-50%) scaleY(1.070);transform-origin:50% 24.42px;top:698.48px;font-size:26.50px;line-height:30.47px;color:#000;"><svg class="one" viewBox="0 -1472 1139 1472" preserveAspectRatio="none"><path d="M806 0H525V-1059Q371 -915 162 -846V-1101Q272 -1137 401 -1237.5T578 -1472H806Z"/></svg>000</div>
<div class="t" style="right:819.6px;transform:scaleY(1.070);transform-origin:50% 24.42px;top:648.78px;font-size:26.50px;line-height:30.47px;color:#000;">0,0000</div>
<div class="t" style="right:819.6px;transform:scaleY(1.070);transform-origin:50% 24.42px;top:591.53px;font-size:26.50px;line-height:30.47px;color:#000;">-0,0003</div>
<div class="t" style="right:819.6px;transform:scaleY(1.070);transform-origin:50% 24.42px;top:534.28px;font-size:26.50px;line-height:30.47px;color:#000;">-0,0006</div>
<div class="t" style="right:819.6px;transform:scaleY(1.070);transform-origin:50% 24.42px;top:477.03px;font-size:26.50px;line-height:30.47px;color:#000;">-0,0009</div>
<div class="t" style="right:819.6px;transform:scaleY(1.070);transform-origin:50% 24.42px;top:419.78px;font-size:26.50px;line-height:30.47px;color:#000;">-0,00<svg class="one" viewBox="0 -1472 1139 1472" preserveAspectRatio="none"><path d="M806 0H525V-1059Q371 -915 162 -846V-1101Q272 -1137 401 -1237.5T578 -1472H806Z"/></svg>2</div>
<div class="t" style="left:530.0px;transform:translateX(-50%) scaleY(1.070);transform-origin:50% 29.26px;top:338.64px;font-size:31.75px;line-height:36.51px;color:#000;">Temperatura (°C)</div>
<div class="t" style="left:530.0px;transform:translateX(-50%) scaleY(1.070);transform-origin:50% 29.26px;top:735.84px;font-size:31.75px;line-height:36.51px;color:#000;">Temperatura (°C)</div>
<div class="t" style="left:853.0px;transform:scaleY(1.070);transform-origin:50% 22.67px;top:-4.27px;font-size:24.60px;line-height:28.29px;color:#0000ff;white-space:nowrap;">707</div>
<div class="t" style="left:853.0px;transform:scaleY(1.070);transform-origin:50% 22.67px;top:27.13px;font-size:24.60px;line-height:28.29px;color:#008000;white-space:nowrap;">707+FL</div>
<div class="t" style="left:853.0px;transform:scaleY(1.070);transform-origin:50% 22.67px;top:57.83px;font-size:24.60px;line-height:28.29px;color:#ff0000;white-space:nowrap;">FL NPs</div>
<div class="t" style="left:853.0px;transform:scaleY(1.070);transform-origin:50% 22.67px;top:88.73px;font-size:24.60px;line-height:28.29px;color:#ff00ff;white-space:nowrap;">Sample P</div>
<div class="t" style="left:853.0px;transform:scaleY(1.070);transform-origin:50% 22.67px;top:119.83px;font-size:24.60px;line-height:28.29px;color:#800080;white-space:nowrap;">Sample A</div>
<div class="t" style="left:71.13px;top:163.10px;font-size:32.50px;line-height:37.38px;transform:translate(-50%,-50%) rotate(-90deg) scaleY(1.045);white-space:nowrap;">TG (%)</div>
<div class="t" style="left:13.11px;top:551.20px;font-size:32.00px;line-height:36.80px;transform:translate(-50%,-50%) rotate(-90deg) scaleY(1.045);white-space:nowrap;">DTG (%/min)</div>
</div>
</body></html>
